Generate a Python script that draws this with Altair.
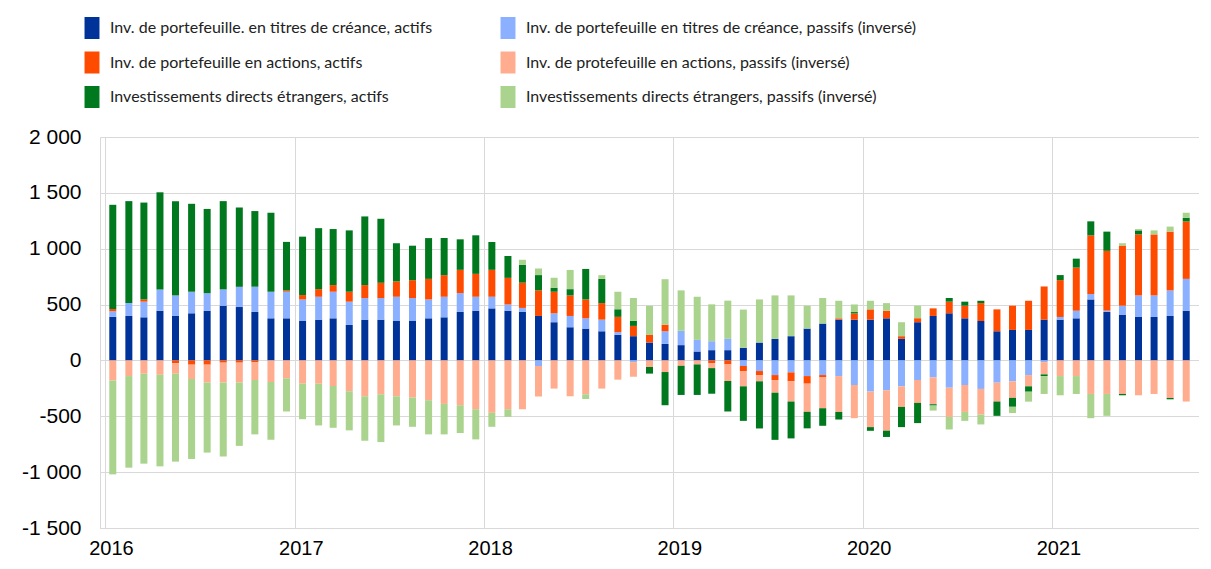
import altair as alt
import pandas as pd

# ---- data (EUR bn) ----
series_names = [
    "Inv. de portefeuille. en titres de créance, actifs",
    "Inv. de portefeuille en titres de créance, passifs (inversé)",
    "Inv. de portefeuille en actions, actifs",
    "Inv. de protefeuille en actions, passifs (inversé)",
    "Investissements directs étrangers, actifs",
    "Investissements directs étrangers, passifs (inversé)",
]
series_colors = ["#003399", "#8AB0FF", "#FF4B00", "#FFAD8E", "#00781E", "#AAD38E"]
# legend is laid out column by column: assets on the left, liabilities on the right
legend_order = [0, 2, 4, 1, 3, 5]

debt_assets = [390, 398, 386, 445, 398, 422, 445, 490, 478, 434, 377, 377,
               353, 365, 377, 318, 365, 365, 353, 353, 377, 386, 434, 445,
               466, 445, 434, 398, 342, 297, 285, 261, 229, 217, 160, 148,
               137, 80, 92, 92, 113, 160, 193, 217, 285, 330, 365, 365,
               365, 377, 193, 342, 398, 422, 377, 353, 261, 273, 273, 365,
               365, 377, 546, 434, 410, 389, 389, 398, 445]
debt_liab = [50, 116, 140, 190, 184, 193, 157, 146, 181, 226, 238, 238,
             193, 205, 238, 208, 193, 193, 217, 205, 169, 184, 169, 125,
             104, 56, 36, -50, 80, 101, 92, 104, 24, -15, 0, 113,
             128, 104, 80, 101, -50, -95, -131, -107, -140, -131, -140, -220,
             -279, -267, -232, -175, -151, -244, -220, -255, -199, -187, -131, -15,
             24, 68, 48, 12, 80, 193, 193, 229, 285]
equity_assets = [20, 0, 20, 0, -24, -38, -38, -20, -20, -18, 0, 12,
                 39, 68, 59, 89, 116, 137, 137, 160, 184, 193, 208, 205,
                 241, 238, 226, 229, 193, 184, 169, 148, 137, 92, 68, 59,
                 0, 0, -24, -36, -45, -36, -45, -80, -68, -21, 12, 56,
                 92, 68, 24, 36, 68, 104, 113, 160, 196, 217, 261, 297,
                 330, 386, 526, 535, 538, 546, 546, 526, 514]
equity_liab = [-180, -140, -119, -128, -95, -128, -160, -178, -178, -157, -193, -160,
               -208, -208, -229, -276, -321, -303, -321, -333, -356, -389, -401, -437,
               -469, -437, -437, -273, -252, -321, -303, -252, -172, -131, -59, -104,
               -48, -36, -45, -148, -137, -56, -113, -181, -252, -276, -321, -297,
               -318, -362, -184, -205, -241, -261, -241, -229, -169, -148, -101, -110,
               -140, -140, -300, -300, -300, -312, -300, -336, -368]
fdi_assets = [933, 912, 867, 870, 843, 787, 754, 790, 710, 677, 707, 434,
              523, 546, 502, 549, 615, 573, 342, 309, 365, 333, 273, 345,
              249, 196, 160, 137, 36, 56, 273, 217, 68, 45, -59, -297,
              -261, -273, -229, -273, -309, -422, -422, -330, -148, -157, -68, 12,
              -33, -56, -181, -181, -12, 33, 36, 21, -128, -80, -48, -15,
              45, 80, 125, 172, -12, 36, 0, -12, 33]
fdi_liab = [-840, -820, -805, -820, -787, -716, -627, -662, -567, -487, -517, -297,
            -318, -374, -374, -350, -398, -428, -261, -261, -306, -273, -249, -270,
            -125, -68, 45, 59, 89, 172, -42, 33, 157, 205, 261, 407,
            362, 386, 330, 342, 342, 386, 389, 365, 205, 229, 157, 68,
            77, 68, 125, 113, -45, -113, -80, -89, 0, -56, -89, -160,
            -172, -160, -217, -196, 21, 12, 36, 45, 45]

year_ticks = [2016, 2017, 2018, 2019, 2020, 2021]
y_ticks = [-1500, -1000, -500, 0, 500, 1000, 1500, 2000]

# ---- long table ----
months = pd.date_range("2016-01-01", periods=len(debt_assets), freq="MS") + pd.Timedelta(days=15)
all_series = [debt_assets, debt_liab, equity_assets, equity_liab, fdi_assets, fdi_liab]
rows = []
for k, (name, vals) in enumerate(zip(series_names, all_series)):
    for d, v in zip(months, vals):
        rows.append({"date": d, "series": name, "value": v, "order": k})
df = pd.DataFrame(rows)

legend_domain = [series_names[i] for i in legend_order]
legend_range = [series_colors[i] for i in legend_order]
legend_shape = "M-0.68,-1H0.68V1H-0.68Z"

chart = alt.Chart(df).mark_bar(width=7).encode(
    x=alt.X(
        "date:T",
        scale=alt.Scale(domain=[alt.DateTime(year=2016, month=1, date=1),
                                alt.DateTime(year=2021, month=10, date=1)]),
        axis=alt.Axis(
            values=[alt.DateTime(year=y, month=1, date=1) for y in year_ticks],
            format="%Y", title=None, ticks=False, labelFlush=False,
            labelFont="Liberation Sans", labelFontSize=20, labelColor="#000000",
            labelPadding=10, labelOffset=6,
            domainColor="#d9d9d9", gridColor="#d9d9d9", grid=True,
        ),
    ),
    y=alt.Y(
        "value:Q", stack="zero",
        scale=alt.Scale(domain=[-1500, 2000], nice=False),
        axis=alt.Axis(
            values=y_ticks, title=None, ticks=False,
            labelExpr="(datum.value < 0 ? '-' : '') + replace(format(abs(datum.value), ','), ',', ' ')",
            labelFont="Liberation Sans", labelFontSize=21, labelColor="#000000",
            labelPadding=19, domainColor="#d9d9d9", gridColor="#d9d9d9",
        ),
    ),
    color=alt.Color(
        "series:N",
        scale=alt.Scale(domain=legend_domain, range=legend_range),
        legend=alt.Legend(
            title=None, orient="none", legendX=-19, legendY=-120, columns=2,
            symbolType=legend_shape, symbolSize=484, symbolStrokeWidth=0,
            symbolOpacity=1, labelFont="Lato", labelFontSize=16,
            labelColor="#222222", labelLimit=600, labelOffset=7,
            rowPadding=12.5, columnPadding=64,
        ),
    ),
    order=alt.Order("order:Q"),
).properties(
    width=1099, height=391,
    padding={"left": 13, "top": 9, "right": 0, "bottom": 0},
).configure_view(stroke=None)

chart.save("out.html", embed_options={"renderer": "svg", "actions": False})
